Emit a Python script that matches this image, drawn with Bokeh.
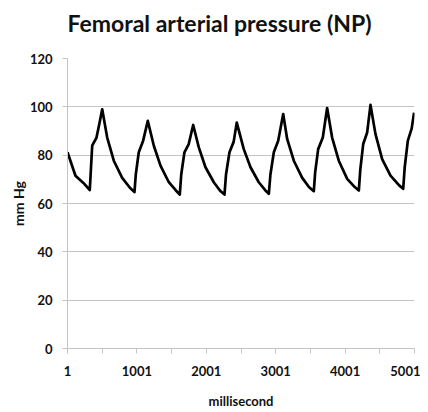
from bokeh.plotting import figure
from bokeh.models import FixedTicker, Range1d, Title
from bokeh.embed import file_html
from bokeh.resources import INLINE

title_text = "Femoral arterial pressure (NP)"
x_label = "millisecond"
y_label = "mm Hg"

time_ms = [1, 116, 230, 322, 340, 357, 419, 460, 501, 573, 668, 789, 900, 966, 985,
           1028, 1091, 1158, 1245, 1341, 1461, 1560, 1619, 1640, 1686, 1748, 1812,
           1893, 1989, 2109, 2200, 2263, 2285, 2335, 2395, 2440, 2541, 2638, 2757,
           2850, 2902, 2925, 2974, 3037, 3109, 3166, 3262, 3383, 3480, 3550, 3570,
           3613, 3680, 3742, 3814, 3910, 4031, 4140, 4199, 4220, 4262, 4319, 4367,
           4439, 4535, 4655, 4780, 4838, 4860, 4905, 4960, 4995]
pressure = [81.2, 71.5, 68.5, 65.6, 75.0, 83.9, 87.3, 93.0, 99.0, 87.3, 77.7, 70.6, 66.5, 64.7, 72.0,
            81.2, 86.0, 94.2, 83.9, 75.7, 68.8, 65.5, 63.7, 72.0, 81.2, 84.6, 92.5,
            83.2, 75.0, 68.8, 65.3, 63.7, 72.0, 81.2, 85.5, 93.5, 82.5, 75.0, 68.8,
            65.5, 64.0, 72.0, 81.2, 86.0, 97.0, 86.7, 77.7, 70.6, 66.8, 65.1, 73.0,
            82.5, 87.3, 99.5, 87.3, 77.7, 70.2, 66.8, 65.4, 74.0, 84.6, 89.4, 100.8,
            88.7, 78.4, 71.5, 67.5, 66.1, 75.0, 86.0, 91.0, 97.6]

x_major_ticks = [1, 1001, 2001, 3001, 4001, 5001]
x_minor_ticks = [501, 1501, 2501, 3501, 4501]
y_ticks = [0, 20, 40, 60, 80, 100, 120]

FONT = "Lato"
GRID = "#c4c4c4"

p = figure(width=420, height=412, output_backend="svg", toolbar_location=None,
           x_range=Range1d(1, 5001), y_range=Range1d(0, 120),
           min_border_left=67, min_border_right=6, min_border_top=58, min_border_bottom=64)
p.outline_line_color = None
p.background_fill_color = "white"

# spacer panel between frame and title, then the title itself
p.add_layout(Title(text=" ", text_font_size="1px", standoff=14), "above")
p.add_layout(Title(text=title_text, align="left", standoff=10,
                   text_font=FONT, text_font_size="23px", text_font_style="bold",
                   text_color="#111111"), "above")

p.line(time_ms, pressure, line_color="black", line_width=2.7, line_join="round")

p.xaxis.ticker = FixedTicker(ticks=x_major_ticks, minor_ticks=x_minor_ticks)
p.yaxis.ticker = FixedTicker(ticks=y_ticks)

for ax in (p.xaxis[0], p.yaxis[0]):
    ax.axis_line_color = GRID
    ax.major_tick_line_color = GRID
    ax.minor_tick_line_color = GRID
    ax.major_tick_in = 0
    ax.major_tick_out = 5
    ax.minor_tick_in = 0
    ax.minor_tick_out = 5
    ax.major_label_text_font = FONT
    ax.major_label_text_font_style = "bold"
    ax.major_label_text_font_size = "13px"
    ax.major_label_text_color = "#111111"
    ax.axis_label_text_font = FONT
    ax.axis_label_text_font_style = "bold"
    ax.axis_label_text_color = "#111111"

p.yaxis.minor_tick_line_color = None
p.xaxis.axis_label = x_label
p.yaxis.axis_label = y_label
p.xaxis.axis_label_text_font_size = "13px"
p.yaxis.axis_label_text_font_size = "14px"
p.xaxis.major_label_standoff = 12
p.yaxis.major_label_standoff = 10
p.xaxis.axis_label_standoff = 14
p.yaxis.axis_label_standoff = 0

p.xgrid.grid_line_color = None
p.ygrid.grid_line_color = GRID
p.ygrid.grid_line_width = 1

open("out.html", "w").write(file_html(p, INLINE))
